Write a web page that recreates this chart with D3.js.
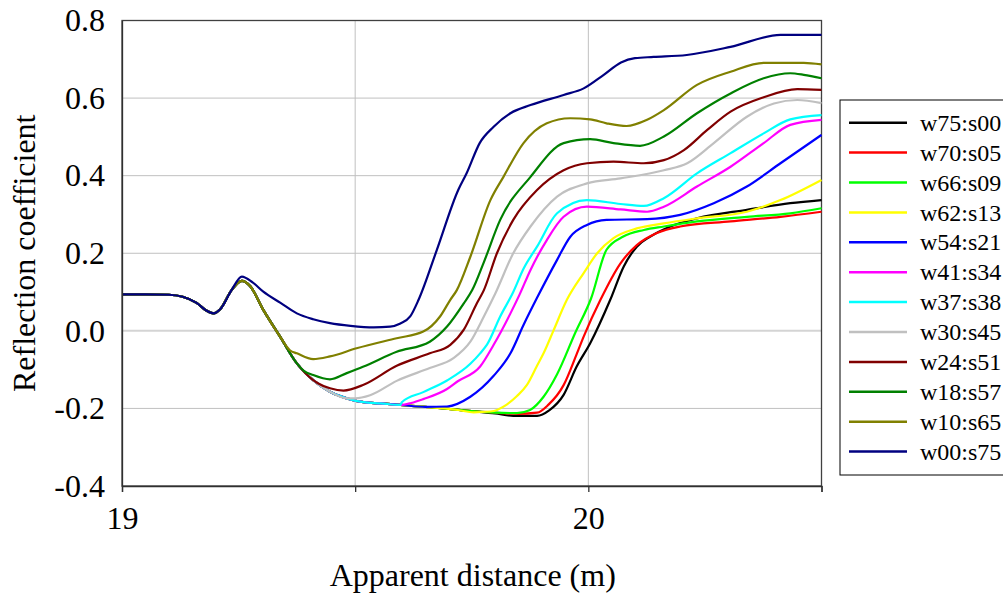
<!DOCTYPE html>
<html>
<head>
<meta charset="utf-8">
<script src="https://cdn.jsdelivr.net/npm/d3@7/dist/d3.min.js"></script>
<style>
  html, body { margin: 0; padding: 0; background: #fff; }
  svg { display: block; }
  svg text { font-family: "Liberation Serif", "Times New Roman", Times, Tinos, "DejaVu Serif", "Noto Serif", FreeSerif, "Nimbus Roman", serif; }
</style>
</head>
<body>
<svg id="chart" width="1003" height="594"></svg>
<script>
/* Reflection coefficient vs apparent distance, 12 wet:sand mixes.
 * Values; all curves share the same
 * start (flat, dip, peak, fall) and then peel off one by one. */

const FONT = '"Liberation Serif", "Times New Roman", Times, Tinos, "DejaVu Serif", "Noto Serif", FreeSerif, serif';

const seriesNames = ['w75:s00', 'w70:s05', 'w66:s09', 'w62:s13', 'w54:s21', 'w41:s34',
                     'w37:s38', 'w30:s45', 'w24:s51', 'w18:s57', 'w10:s65', 'w00:s75'];
const seriesColors = ['#000000', '#ff0000', '#00ff00', '#ffff00', '#0000ff', '#ff00ff',
                      '#00ffff', '#c0c0c0', '#800000', '#008000', '#808000', '#000080'];

const xTicks = [19, 19.5, 20, 20.5];
const xLabels = [19, 20];
const yTicks = [-0.4, -0.2, 0, 0.2, 0.4, 0.6, 0.8];

// common part of every trace, [distance, coefficient]
const sharedStart = [
  [19.00, 0.094], [19.05, 0.094], [19.10, 0.093], [19.13, 0.088], [19.16, 0.072],
  [19.18, 0.053], [19.196, 0.045], [19.21, 0.055], [19.235, 0.105], [19.257, 0.129],
  [19.275, 0.115], [19.303, 0.054], [19.339, -0.015], [19.375, -0.084], [19.41, -0.127],
  [19.446, -0.157], [19.482, -0.174], [19.518, -0.184], [19.554, -0.187], [19.597, -0.191],
  [19.65, -0.196], [19.70, -0.201], [19.75, -0.207], [19.80, -0.211], [19.85, -0.214]
];

// each trace's own part, from where it leaves the shared start
const w75s00 = [
  [19.80, -0.213], [19.839, -0.219], [19.89, -0.219], [19.916, -0.205], [19.947, -0.165],
  [19.975, -0.092], [20.004, -0.032], [20.047, 0.080], [20.076, 0.166], [20.104, 0.217],
  [20.133, 0.243], [20.176, 0.269], [20.233, 0.290], [20.34, 0.312], [20.433, 0.329], [20.5, 0.337]
];
const w70s05 = [
  [19.85, -0.214], [19.89, -0.211], [19.914, -0.191], [19.947, -0.140], [19.975, -0.060],
  [19.99, -0.015], [20.026, 0.080], [20.069, 0.174], [20.104, 0.221], [20.147, 0.252],
  [20.197, 0.269], [20.305, 0.282], [20.412, 0.294], [20.5, 0.307]
];
const w66s09 = [
  [19.847, -0.212], [19.875, -0.204], [19.904, -0.170], [19.933, -0.112], [19.972, -0.005],
  [20.006, 0.084], [20.039, 0.209], [20.075, 0.243], [20.119, 0.260], [20.162, 0.269],
  [20.233, 0.282], [20.34, 0.294], [20.433, 0.303], [20.5, 0.316]
];
const w62s13 = [
  [19.72, -0.204], [19.754, -0.210], [19.79, -0.208], [19.825, -0.190], [19.847, -0.168],
  [19.868, -0.140], [19.89, -0.090], [19.904, -0.058], [19.925, 0.0], [19.954, 0.080],
  [19.99, 0.149], [20.019, 0.200], [20.054, 0.239], [20.104, 0.264], [20.162, 0.277],
  [20.233, 0.290], [20.34, 0.307], [20.412, 0.337], [20.5, 0.389]
];
const w54s21 = [
  [19.65, -0.196], [19.697, -0.195], [19.747, -0.170], [19.797, -0.116], [19.833, -0.058],
  [19.861, 0.015], [19.89, 0.085], [19.933, 0.183], [19.961, 0.242], [19.997, 0.273],
  [20.039, 0.286], [20.126, 0.288], [20.197, 0.299], [20.269, 0.329], [20.34, 0.372],
  [20.412, 0.432], [20.5, 0.505]
];
const w41s34 = [
  [19.62, -0.186], [19.646, -0.176], [19.697, -0.150], [19.72, -0.130], [19.768, -0.092],
  [19.797, -0.036], [19.833, 0.045], [19.852, 0.092], [19.876, 0.157], [19.911, 0.234],
  [19.947, 0.294], [19.997, 0.320], [20.069, 0.313], [20.126, 0.307], [20.162, 0.320],
  [20.233, 0.372], [20.305, 0.423], [20.376, 0.484], [20.433, 0.531], [20.5, 0.544]
];
const w37s38 = [
  [19.60, -0.184], [19.646, -0.158], [19.697, -0.128], [19.747, -0.085], [19.768, -0.058],
  [19.783, -0.035], [19.811, 0.037], [19.839, 0.100], [19.861, 0.160], [19.89, 0.217],
  [19.933, 0.303], [19.997, 0.337], [20.069, 0.327], [20.119, 0.322], [20.162, 0.342],
  [20.233, 0.406], [20.305, 0.458], [20.376, 0.509], [20.433, 0.545], [20.5, 0.556]
];
const w30s45 = [
  [19.50, -0.174], [19.532, -0.166], [19.589, -0.129], [19.66, -0.096], [19.71, -0.071],
  [19.747, -0.028], [19.776, 0.037], [19.80, 0.095], [19.839, 0.200], [19.876, 0.269],
  [19.933, 0.346], [19.997, 0.380], [20.069, 0.393], [20.162, 0.414], [20.212, 0.432],
  [20.269, 0.484], [20.34, 0.552], [20.398, 0.586], [20.448, 0.595], [20.5, 0.587]
];
const w24s51 = [
  [19.42, -0.135], [19.446, -0.148], [19.475, -0.154], [19.518, -0.139], [19.589, -0.090],
  [19.66, -0.058], [19.704, -0.036], [19.733, 0.003], [19.761, 0.071], [19.776, 0.105],
  [19.804, 0.200], [19.839, 0.286], [19.89, 0.363], [19.947, 0.414], [19.997, 0.432],
  [20.054, 0.436], [20.119, 0.432], [20.162, 0.440], [20.205, 0.466], [20.255, 0.518],
  [20.305, 0.565], [20.376, 0.602], [20.448, 0.623], [20.5, 0.621]
];
const w18s57 = [
  [19.39, -0.103], [19.41, -0.114], [19.446, -0.125], [19.482, -0.109], [19.518, -0.092],
  [19.589, -0.054], [19.66, -0.028], [19.697, 0.011], [19.733, 0.071], [19.751, 0.105],
  [19.775, 0.174], [19.811, 0.286], [19.876, 0.397], [19.947, 0.484], [20.004, 0.494],
  [20.054, 0.484], [20.111, 0.477], [20.162, 0.501], [20.233, 0.561], [20.305, 0.612],
  [20.376, 0.651], [20.433, 0.664], [20.462, 0.660], [20.5, 0.651]
];
const w10s65 = [
  [19.36, -0.050], [19.375, -0.058], [19.41, -0.073], [19.446, -0.066], [19.503, -0.045],
  [19.589, -0.019], [19.646, -0.002], [19.682, 0.037], [19.704, 0.080], [19.718, 0.105],
  [19.747, 0.191], [19.79, 0.337], [19.818, 0.397], [19.861, 0.484], [19.911, 0.535],
  [19.961, 0.548], [20.004, 0.545], [20.039, 0.535], [20.082, 0.528], [20.126, 0.544],
  [20.162, 0.569], [20.233, 0.634], [20.305, 0.668], [20.376, 0.691], [20.462, 0.691], [20.5, 0.687]
];
const w00s75 = [
  [19.257, 0.140], [19.28, 0.125], [19.303, 0.101], [19.34, 0.072], [19.375, 0.045],
  [19.41, 0.030], [19.446, 0.020], [19.49, 0.013], [19.54, 0.009], [19.575, 0.011],
  [19.597, 0.019], [19.618, 0.037], [19.636, 0.080], [19.675, 0.208], [19.721, 0.363],
  [19.739, 0.406], [19.767, 0.484], [19.797, 0.526], [19.833, 0.561], [19.876, 0.582],
  [19.947, 0.608], [19.990, 0.625], [20.033, 0.660], [20.07, 0.692], [20.10, 0.703],
  [20.14, 0.706], [20.211, 0.711], [20.305, 0.732], [20.412, 0.763], [20.5, 0.763]
];

const tails = [w75s00, w70s05, w66s09, w62s13, w54s21, w41s34,
               w37s38, w30s45, w24s51, w18s57, w10s65, w00s75];

/* ---- layout ---- */
const svg = d3.select('#chart');
const plot = { left: 122, top: 20.5, right: 821.5, bottom: 486 };

const x = d3.scaleLinear().domain([19, 20.5]).range([plot.left, plot.right]);
const y = d3.scaleLinear().domain([-0.4, 0.8]).range([plot.bottom, plot.top]);

// gridlines
svg.append('g')
  .selectAll('line.hgrid')
  .data(yTicks.filter(v => v > -0.4 && v < 0.8))
  .join('line')
  .attr('x1', plot.left).attr('x2', plot.right)
  .attr('y1', d => y(d)).attr('y2', d => y(d))
  .attr('stroke', d => d === 0 ? '#d4d4d4' : '#c0c0c0')
  .attr('stroke-width', d => d === 0 ? 2 : 1);

svg.append('g')
  .selectAll('line.vgrid')
  .data(xTicks.filter(v => v > 19 && v < 20.5))
  .join('line')
  .attr('x1', d => x(d)).attr('x2', d => x(d))
  .attr('y1', plot.top).attr('y2', plot.bottom)
  .attr('stroke', '#c0c0c0')
  .attr('stroke-width', 1);

// plot frame
svg.append('rect')
  .attr('x', plot.left).attr('y', plot.top)
  .attr('width', plot.right - plot.left).attr('height', plot.bottom - plot.top)
  .attr('fill', 'none').attr('stroke', '#404040').attr('stroke-width', 1.3);

// traces
const line = d3.line()
  .x(d => x(d[0]))
  .y(d => y(d[1]))
  .curve(d3.curveMonotoneX);

const traces = tails.map(t => sharedStart.filter(p => p[0] < t[0][0]).concat(t));

svg.append('g')
  .selectAll('path')
  .data(traces)
  .join('path')
  .attr('d', line)
  .attr('fill', 'none')
  .attr('stroke', (d, i) => seriesColors[i])
  .attr('stroke-width', 2.2)
  .attr('stroke-linejoin', 'round');

// axes
const xAxis = d3.axisBottom(x)
  .tickValues(xTicks)
  .tickSize(6)
  .tickFormat(d => xLabels.includes(d) ? String(d) : '');
const gx = svg.append('g')
  .attr('transform', `translate(0,${plot.bottom})`)
  .call(xAxis)
  .attr('font-family', FONT);
gx.select('.domain').attr('stroke', '#303030').attr('stroke-width', 1.3);
gx.selectAll('.tick line').attr('stroke', '#303030').attr('stroke-width', 1.3);
gx.selectAll('.tick text')
  .attr('font-size', 32)
  .attr('fill', '#000')
  .attr('dy', '1.05em');

const yAxis = d3.axisLeft(y)
  .tickValues(yTicks)
  .tickSize(0)
  .tickPadding(17)
  .tickFormat(d => d.toFixed(1));
const gy = svg.append('g')
  .attr('transform', `translate(${plot.left},0)`)
  .call(yAxis)
  .attr('font-family', FONT);
gy.select('.domain').attr('stroke', '#303030').attr('stroke-width', 1.3);
gy.selectAll('.tick text')
  .attr('font-size', 32)
  .attr('fill', '#000');

// axis titles
svg.append('text')
  .attr('x', (plot.left + plot.right) / 2 + 1)
  .attr('y', 586)
  .attr('text-anchor', 'middle')
  .attr('font-size', 32)
  .text('Apparent distance (m)');

svg.append('text')
  .attr('transform', `translate(35,${(plot.top + plot.bottom) / 2}) rotate(-90)`)
  .attr('text-anchor', 'middle')
  .attr('font-size', 32)
  .text('Reflection coefficient');

// legend
const legend = svg.append('g').attr('transform', 'translate(840,100)');
legend.append('rect')
  .attr('x', 0).attr('y', 0)
  .attr('width', 175).attr('height', 375)
  .attr('fill', '#fff').attr('stroke', '#000').attr('stroke-width', 1);

const rows = legend.selectAll('g.row')
  .data(seriesNames)
  .join('g')
  .attr('transform', (d, i) => `translate(0,${22.7 + i * 29.9})`);
rows.append('line')
  .attr('x1', 9).attr('x2', 67)
  .attr('stroke', (d, i) => seriesColors[i])
  .attr('stroke-width', 2.5);
rows.append('text')
  .attr('x', 80)
  .attr('dy', '0.34em')
  .attr('font-size', 24)
  .text(d => d);
</script>
</body>
</html>
